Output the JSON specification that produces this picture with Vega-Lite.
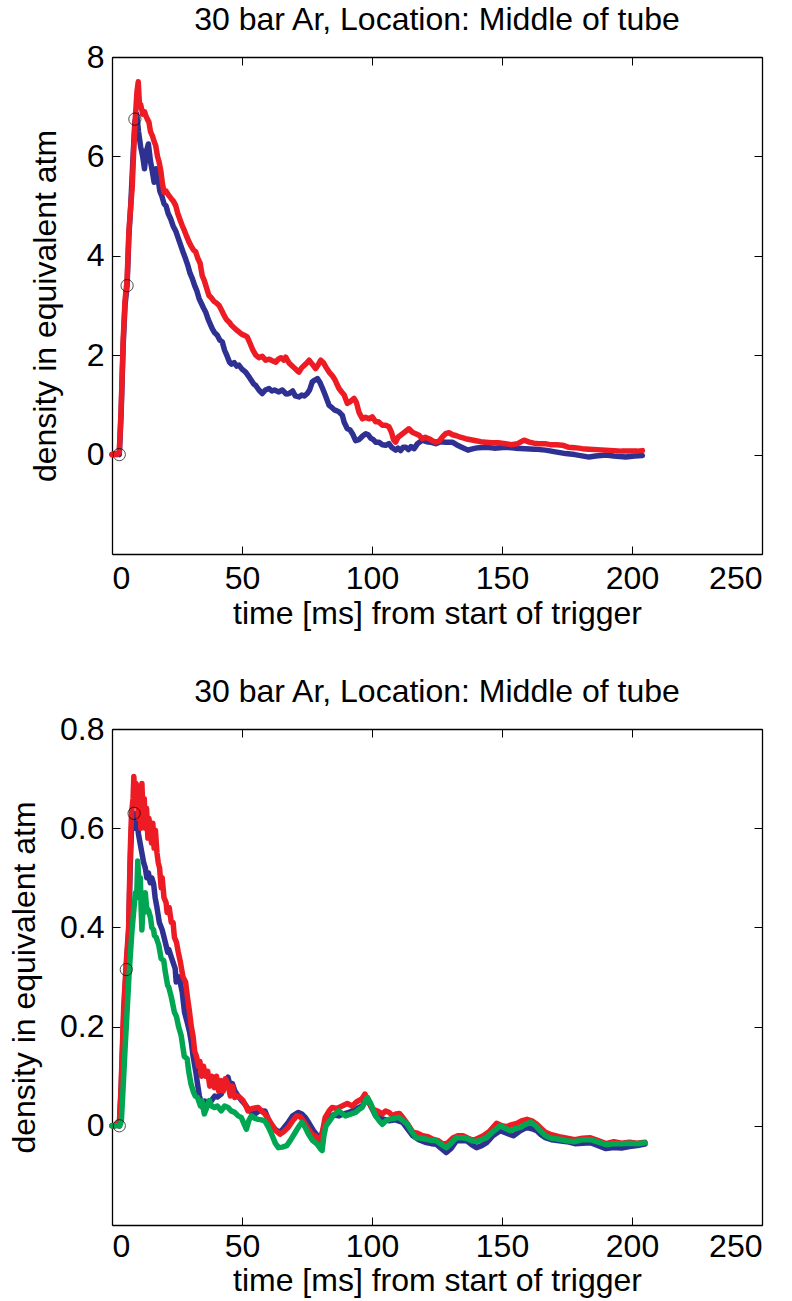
{
"$schema": "https://vega.github.io/schema/vega-lite/v6.json",
"padding": {"left": 8, "top": 4, "right": 5, "bottom": 2},
"background": "white",
"spacing": 47,
"config": {
  "font": "Liberation Sans",
  "view": {"stroke": null},
  "axis": {"grid": false, "domainColor": "#000", "tickColor": "#000", "labelColor": "#000", "titleColor": "#000", "labelFontSize": 32, "titleFontSize": 32, "titleFontWeight": "normal", "tickSize": -8, "domainWidth": 1.3, "tickWidth": 1},
  "axisX": {"labelPadding": 17},
  "axisY": {"labelPadding": 16},
  "title": {"fontSize": 32, "fontWeight": "normal", "color": "#000", "offset": 4}
},
"datasets": {
"topBlue": [
{"t":0,"v":0},{"t":1,"v":0},{"t":2,"v":0.02},{"t":2.8,"v":0},{"t":3.5,"v":0.8},{"t":4.3,"v":2.2},{"t":5,"v":3.0},{"t":5.8,"v":3.4},{"t":6.5,"v":4.4},{"t":7.2,"v":5.0},{"t":8,"v":5.9},{"t":8.8,"v":6.7},{"t":9.5,"v":6.85},{"t":10.2,"v":6.5},{"t":11,"v":6.2},{"t":11.8,"v":6.0},{"t":12.5,"v":5.75},{"t":13.2,"v":6.1},{"t":14,"v":6.25},{"t":14.8,"v":5.9},{"t":15.5,"v":5.7},{"t":16.2,"v":5.48},{"t":17,"v":5.75},{"t":17.6,"v":5.6},{"t":18.4,"v":5.3},{"t":19.2,"v":5.2},{"t":20,"v":5.05},{"t":20.8,"v":5.0},{"t":21.6,"v":4.85},{"t":22.6,"v":4.74},{"t":23.5,"v":4.6},{"t":24.5,"v":4.5},{"t":25.5,"v":4.35},{"t":26.5,"v":4.2},{"t":27.5,"v":4.05},{"t":28.3,"v":3.94},{"t":29.2,"v":3.8},{"t":30,"v":3.65},{"t":30.9,"v":3.54},{"t":31.8,"v":3.4},{"t":32.6,"v":3.3},{"t":33.5,"v":3.14},{"t":34.3,"v":3.05},{"t":35.2,"v":2.95},{"t":36,"v":2.87},{"t":37,"v":2.72},{"t":38,"v":2.6},{"t":38.6,"v":2.53},{"t":39.5,"v":2.45},{"t":40.5,"v":2.4},{"t":41.5,"v":2.3},{"t":42.4,"v":2.27},{"t":43.3,"v":2.1},{"t":44.3,"v":1.98},{"t":45.2,"v":1.86},{"t":46,"v":1.82},{"t":47,"v":1.85},{"t":48,"v":1.78},{"t":48.8,"v":1.8},{"t":50,"v":1.72},{"t":51.4,"v":1.66},{"t":52.5,"v":1.58},{"t":53.5,"v":1.5},{"t":54.5,"v":1.42},{"t":55.3,"v":1.39},{"t":56.5,"v":1.3},{"t":57.8,"v":1.23},{"t":59,"v":1.3},{"t":60.4,"v":1.33},{"t":61.5,"v":1.28},{"t":62.5,"v":1.3},{"t":64.2,"v":1.26},{"t":65.5,"v":1.3},{"t":67,"v":1.22},{"t":68.1,"v":1.23},{"t":69.5,"v":1.28},{"t":70.5,"v":1.18},{"t":71.9,"v":1.16},{"t":73,"v":1.2},{"t":74,"v":1.18},{"t":75.1,"v":1.23},{"t":76,"v":1.3},{"t":77,"v":1.46},{"t":78,"v":1.5},{"t":79,"v":1.53},{"t":80,"v":1.45},{"t":81,"v":1.33},{"t":82,"v":1.2},{"t":83.5,"v":0.99},{"t":84.5,"v":0.95},{"t":85.5,"v":0.9},{"t":86.5,"v":0.88},{"t":87.3,"v":0.86},{"t":88.6,"v":0.79},{"t":89.3,"v":0.65},{"t":90.5,"v":0.52},{"t":91.5,"v":0.5},{"t":92.5,"v":0.42},{"t":93.7,"v":0.28},{"t":95,"v":0.3},{"t":96.5,"v":0.38},{"t":97.6,"v":0.42},{"t":98.5,"v":0.4},{"t":99.5,"v":0.33},{"t":100.5,"v":0.3},{"t":101.4,"v":0.25},{"t":102.7,"v":0.25},{"t":104,"v":0.2},{"t":105.3,"v":0.19},{"t":106.5,"v":0.22},{"t":107.5,"v":0.15},{"t":109.1,"v":0.09},{"t":110,"v":0.13},{"t":111,"v":0.08},{"t":112,"v":0.15},{"t":113,"v":0.15},{"t":114,"v":0.1},{"t":115,"v":0.16},{"t":116.2,"v":0.12},{"t":117.5,"v":0.22},{"t":119.3,"v":0.29},{"t":121,"v":0.26},{"t":122.5,"v":0.25},{"t":124.5,"v":0.22},{"t":126.5,"v":0.26},{"t":128.3,"v":0.25},{"t":130.9,"v":0.25},{"t":132.5,"v":0.2},{"t":134.5,"v":0.15},{"t":136.9,"v":0.09},{"t":139,"v":0.12},{"t":141,"v":0.14},{"t":143.7,"v":0.15},{"t":147,"v":0.13},{"t":151.4,"v":0.15},{"t":155,"v":0.13},{"t":159,"v":0.12},{"t":162.5,"v":0.11},{"t":166.8,"v":0.09},{"t":170,"v":0.06},{"t":174.5,"v":0.02},{"t":178,"v":0.0},{"t":183.5,"v":-0.05},{"t":186,"v":-0.03},{"t":189.9,"v":-0.01},{"t":193,"v":-0.03},{"t":197.6,"v":-0.05},{"t":201,"v":-0.03},{"t":204,"v":-0.02}
],
"topRed": [
{"t":0,"v":0},{"t":1,"v":0.02},{"t":2,"v":0},{"t":2.8,"v":0.05},{"t":3.5,"v":0.9},{"t":4.3,"v":2.3},{"t":5,"v":3.1},{"t":5.8,"v":3.5},{"t":6.5,"v":4.5},{"t":7.2,"v":5.0},{"t":7.8,"v":5.4},{"t":8.4,"v":6.2},{"t":9,"v":6.8},{"t":9.6,"v":7.3},{"t":10.1,"v":7.5},{"t":10.6,"v":7.0},{"t":11,"v":7.05},{"t":11.8,"v":6.85},{"t":12.5,"v":6.9},{"t":13,"v":6.82},{"t":13.6,"v":6.75},{"t":14.2,"v":6.69},{"t":14.8,"v":6.5},{"t":15.5,"v":6.42},{"t":16.2,"v":6.3},{"t":16.8,"v":6.22},{"t":17.5,"v":6.0},{"t":18.1,"v":5.89},{"t":18.8,"v":5.7},{"t":19.4,"v":5.45},{"t":20,"v":5.28},{"t":20.8,"v":5.3},{"t":21.9,"v":5.21},{"t":22.8,"v":5.15},{"t":23.6,"v":5.1},{"t":24.5,"v":5.01},{"t":25.3,"v":4.85},{"t":26.2,"v":4.72},{"t":27,"v":4.61},{"t":27.9,"v":4.5},{"t":28.8,"v":4.38},{"t":29.6,"v":4.28},{"t":30.4,"v":4.2},{"t":31.3,"v":4.12},{"t":32.2,"v":4.08},{"t":33,"v":3.95},{"t":33.9,"v":3.85},{"t":34.7,"v":3.6},{"t":35.5,"v":3.5},{"t":36.4,"v":3.35},{"t":37.3,"v":3.2},{"t":38.3,"v":3.15},{"t":39.3,"v":3.08},{"t":40.2,"v":3.05},{"t":41.2,"v":3.0},{"t":42.2,"v":2.9},{"t":43.1,"v":2.8},{"t":44,"v":2.72},{"t":45,"v":2.67},{"t":46,"v":2.6},{"t":47,"v":2.55},{"t":48,"v":2.5},{"t":48.8,"v":2.47},{"t":50,"v":2.42},{"t":51,"v":2.4},{"t":52,"v":2.37},{"t":53,"v":2.25},{"t":54.2,"v":2.1},{"t":55.3,"v":2.0},{"t":56.5,"v":1.95},{"t":57.8,"v":1.98},{"t":59.1,"v":1.9},{"t":60.5,"v":1.92},{"t":62,"v":1.88},{"t":63,"v":1.86},{"t":64,"v":1.92},{"t":65,"v":1.95},{"t":66.1,"v":1.9},{"t":66.8,"v":1.96},{"t":68,"v":1.85},{"t":69,"v":1.8},{"t":70,"v":1.75},{"t":71,"v":1.7},{"t":71.9,"v":1.66},{"t":73,"v":1.75},{"t":74,"v":1.8},{"t":75,"v":1.85},{"t":75.8,"v":1.9},{"t":77,"v":1.82},{"t":78.3,"v":1.73},{"t":79.2,"v":1.8},{"t":80.3,"v":1.9},{"t":81.3,"v":1.85},{"t":82.4,"v":1.75},{"t":83.5,"v":1.66},{"t":84.7,"v":1.59},{"t":85.8,"v":1.5},{"t":87.3,"v":1.33},{"t":88.5,"v":1.25},{"t":89.3,"v":1.2},{"t":90.5,"v":1.03},{"t":91.5,"v":1.06},{"t":93.1,"v":1.13},{"t":94,"v":1.05},{"t":95,"v":0.85},{"t":96.3,"v":0.72},{"t":97.5,"v":0.75},{"t":99,"v":0.72},{"t":100.1,"v":0.76},{"t":101.4,"v":0.66},{"t":102.5,"v":0.66},{"t":104,"v":0.59},{"t":105.3,"v":0.59},{"t":106.5,"v":0.56},{"t":107.5,"v":0.45},{"t":108.3,"v":0.3},{"t":109.1,"v":0.25},{"t":110,"v":0.35},{"t":111,"v":0.39},{"t":112.5,"v":0.45},{"t":114.2,"v":0.52},{"t":115.5,"v":0.45},{"t":116.8,"v":0.42},{"t":118.1,"v":0.39},{"t":119.3,"v":0.32},{"t":120.5,"v":0.35},{"t":121.9,"v":0.32},{"t":123.2,"v":0.28},{"t":124.5,"v":0.25},{"t":125.8,"v":0.27},{"t":127,"v":0.35},{"t":128.3,"v":0.42},{"t":129.6,"v":0.44},{"t":131,"v":0.4},{"t":132.5,"v":0.38},{"t":134,"v":0.35},{"t":136,"v":0.32},{"t":138,"v":0.3},{"t":140,"v":0.28},{"t":141.8,"v":0.26},{"t":143.7,"v":0.25},{"t":146,"v":0.24},{"t":148.5,"v":0.24},{"t":151.4,"v":0.22},{"t":153.5,"v":0.2},{"t":156,"v":0.22},{"t":158.5,"v":0.29},{"t":160.5,"v":0.25},{"t":162.3,"v":0.23},{"t":164.2,"v":0.22},{"t":166.5,"v":0.22},{"t":168.5,"v":0.2},{"t":171,"v":0.2},{"t":173.2,"v":0.19},{"t":175.5,"v":0.15},{"t":178,"v":0.14},{"t":180.9,"v":0.12},{"t":183.5,"v":0.11},{"t":186.5,"v":0.1},{"t":189.9,"v":0.09},{"t":193,"v":0.08},{"t":196,"v":0.07},{"t":199,"v":0.07},{"t":202,"v":0.07},{"t":204,"v":0.08}
],
"topCirc": [{"t":2.8,"v":0},{"t":5.8,"v":3.4},{"t":8.8,"v":6.75}],
"botBlue": [
{"t":0,"v":0},{"t":1,"v":0},{"t":2,"v":0.003},{"t":2.8,"v":0},{"t":3.5,"v":0.07},{"t":4.5,"v":0.22},{"t":5.5,"v":0.32},{"t":6.4,"v":0.39},{"t":7,"v":0.52},{"t":7.5,"v":0.6},{"t":8.4,"v":0.63},{"t":9,"v":0.6},{"t":9.5,"v":0.62},{"t":10.2,"v":0.588},{"t":10.8,"v":0.57},{"t":11.5,"v":0.55},{"t":12.2,"v":0.53},{"t":12.8,"v":0.52},{"t":13.4,"v":0.5},{"t":14,"v":0.51},{"t":14.7,"v":0.49},{"t":15.3,"v":0.5},{"t":16,"v":0.488},{"t":16.6,"v":0.46},{"t":17.3,"v":0.44},{"t":18.2,"v":0.41},{"t":19.3,"v":0.395},{"t":20.5,"v":0.37},{"t":21.4,"v":0.35},{"t":21.8,"v":0.356},{"t":22.8,"v":0.34},{"t":24.3,"v":0.317},{"t":24.7,"v":0.29},{"t":25.8,"v":0.3},{"t":27,"v":0.27},{"t":27.9,"v":0.229},{"t":28.9,"v":0.209},{"t":29.8,"v":0.19},{"t":30.5,"v":0.169},{"t":31.2,"v":0.14},{"t":32.2,"v":0.11},{"t":32.9,"v":0.084},{"t":33.6,"v":0.06},{"t":34.9,"v":0.037},{"t":35.7,"v":0.05},{"t":36.5,"v":0.045},{"t":38.1,"v":0.05},{"t":39.5,"v":0.06},{"t":40.5,"v":0.058},{"t":42,"v":0.064},{"t":43,"v":0.08},{"t":43.8,"v":0.09},{"t":44.6,"v":0.098},{"t":45.5,"v":0.08},{"t":46.3,"v":0.085},{"t":47.2,"v":0.071},{"t":48.5,"v":0.06},{"t":50,"v":0.05},{"t":51,"v":0.044},{"t":53,"v":0.03},{"t":54.9,"v":0.024},{"t":56.5,"v":0.03},{"t":58.8,"v":0.03},{"t":60,"v":0.015},{"t":61.4,"v":0},{"t":63,"v":-0.008},{"t":64.6,"v":-0.013},{"t":66,"v":-0.005},{"t":67.8,"v":0.007},{"t":69.5,"v":0.02},{"t":71.7,"v":0.027},{"t":73,"v":0.024},{"t":74.3,"v":0.017},{"t":75.8,"v":0.005},{"t":77.5,"v":-0.01},{"t":79,"v":-0.02},{"t":80.1,"v":-0.03},{"t":81,"v":-0.012},{"t":82,"v":0.005},{"t":83.3,"v":0.017},{"t":85,"v":0.022},{"t":87.2,"v":0.02},{"t":89,"v":0.024},{"t":91.1,"v":0.027},{"t":93.5,"v":0.033},{"t":96.2,"v":0.04},{"t":98.2,"v":0.057},{"t":99.5,"v":0.04},{"t":101.4,"v":0.02},{"t":103.5,"v":0.015},{"t":106.6,"v":0.01},{"t":109,"v":0.012},{"t":111.8,"v":0.007},{"t":113.5,"v":-0.005},{"t":115.7,"v":-0.02},{"t":118,"v":-0.028},{"t":120.9,"v":-0.034},{"t":122.8,"v":-0.036},{"t":124.7,"v":-0.037},{"t":126.5,"v":-0.045},{"t":128.6,"v":-0.054},{"t":130.5,"v":-0.045},{"t":132.5,"v":-0.03},{"t":134.5,"v":-0.03},{"t":136.4,"v":-0.03},{"t":138.3,"v":-0.038},{"t":140.2,"v":-0.044},{"t":142.2,"v":-0.04},{"t":144.1,"v":-0.034},{"t":146.5,"v":-0.02},{"t":149.3,"v":-0.01},{"t":151.8,"v":-0.015},{"t":154.4,"v":-0.02},{"t":157,"v":-0.01},{"t":159.6,"v":-0.003},{"t":161.5,"v":-0.006},{"t":163.4,"v":-0.01},{"t":165,"v":-0.018},{"t":166.7,"v":-0.024},{"t":169,"v":-0.028},{"t":172,"v":-0.03},{"t":175,"v":-0.032},{"t":178,"v":-0.036},{"t":181,"v":-0.035},{"t":184,"v":-0.034},{"t":187,"v":-0.04},{"t":190,"v":-0.046},{"t":193,"v":-0.044},{"t":196,"v":-0.045},{"t":199,"v":-0.042},{"t":202,"v":-0.04},{"t":205,"v":-0.037}
],
"botRed": [
{"t":0,"v":0},{"t":1,"v":0},{"t":2,"v":0.005},{"t":2.8,"v":0},{"t":3.5,"v":0.08},{"t":4.5,"v":0.24},{"t":5.5,"v":0.33},{"t":6.4,"v":0.4},{"t":7,"v":0.55},{"t":7.5,"v":0.63},{"t":8.1,"v":0.66},{"t":8.4,"v":0.704},{"t":8.9,"v":0.65},{"t":9.3,"v":0.69},{"t":9.6,"v":0.68},{"t":10.2,"v":0.62},{"t":10.6,"v":0.67},{"t":11.1,"v":0.6},{"t":11.5,"v":0.69},{"t":12,"v":0.62},{"t":12.4,"v":0.66},{"t":12.8,"v":0.6},{"t":13.3,"v":0.64},{"t":13.8,"v":0.58},{"t":14.2,"v":0.62},{"t":14.7,"v":0.6},{"t":15.2,"v":0.57},{"t":15.7,"v":0.61},{"t":16.2,"v":0.56},{"t":16.7,"v":0.596},{"t":17.3,"v":0.55},{"t":17.8,"v":0.53},{"t":18.3,"v":0.52},{"t":18.9,"v":0.48},{"t":19.3,"v":0.5},{"t":20,"v":0.46},{"t":20.8,"v":0.45},{"t":21.2,"v":0.43},{"t":22,"v":0.44},{"t":22.8,"v":0.41},{"t":23.5,"v":0.41},{"t":24,"v":0.38},{"t":24.8,"v":0.37},{"t":25.5,"v":0.35},{"t":26.3,"v":0.33},{"t":27.3,"v":0.3},{"t":28.3,"v":0.29},{"t":29,"v":0.26},{"t":29.8,"v":0.23},{"t":30.5,"v":0.2},{"t":31.2,"v":0.18},{"t":31.8,"v":0.15},{"t":32.5,"v":0.14},{"t":33.2,"v":0.12},{"t":33.8,"v":0.13},{"t":34.4,"v":0.1},{"t":35.2,"v":0.12},{"t":36,"v":0.1},{"t":36.8,"v":0.11},{"t":37.6,"v":0.08},{"t":38.4,"v":0.1},{"t":39.4,"v":0.077},{"t":40.2,"v":0.1},{"t":41,"v":0.07},{"t":42,"v":0.091},{"t":42.8,"v":0.07},{"t":43.6,"v":0.095},{"t":44.6,"v":0.084},{"t":45.5,"v":0.06},{"t":46.3,"v":0.08},{"t":47.2,"v":0.057},{"t":48.5,"v":0.06},{"t":50.4,"v":0.051},{"t":51.5,"v":0.04},{"t":52.3,"v":0.03},{"t":54,"v":0.035},{"t":56.2,"v":0.037},{"t":57.5,"v":0.03},{"t":58.8,"v":0.024},{"t":60,"v":0.015},{"t":61.4,"v":0.003},{"t":63,"v":-0.01},{"t":64.6,"v":-0.017},{"t":66,"v":-0.012},{"t":67.8,"v":-0.003},{"t":69.5,"v":0.01},{"t":71.1,"v":0.02},{"t":72.5,"v":0.018},{"t":73.6,"v":0.01},{"t":75,"v":-0.002},{"t":76.9,"v":-0.017},{"t":78.5,"v":-0.022},{"t":80.1,"v":-0.03},{"t":81,"v":-0.01},{"t":82,"v":0.017},{"t":83.5,"v":0.03},{"t":84.7,"v":0.037},{"t":86.5,"v":0.035},{"t":88.5,"v":0.04},{"t":90.5,"v":0.045},{"t":92.4,"v":0.04},{"t":94,"v":0.048},{"t":95,"v":0.051},{"t":96.2,"v":0.055},{"t":97.3,"v":0.064},{"t":98.5,"v":0.05},{"t":100.2,"v":0.034},{"t":102,"v":0.03},{"t":104,"v":0.024},{"t":105.3,"v":0.03},{"t":106.6,"v":0.027},{"t":108,"v":0.02},{"t":109.2,"v":0.024},{"t":110.5,"v":0.025},{"t":111.8,"v":0.017},{"t":113.5,"v":0.005},{"t":115.7,"v":-0.013},{"t":117.5,"v":-0.015},{"t":119.5,"v":-0.02},{"t":121.5,"v":-0.022},{"t":123.4,"v":-0.027},{"t":125.5,"v":-0.03},{"t":127.3,"v":-0.037},{"t":129,"v":-0.035},{"t":131.2,"v":-0.024},{"t":133,"v":-0.02},{"t":135,"v":-0.02},{"t":137,"v":-0.025},{"t":138.9,"v":-0.029},{"t":140.8,"v":-0.025},{"t":142.8,"v":-0.02},{"t":145,"v":-0.012},{"t":147.9,"v":0.005},{"t":150,"v":0},{"t":151.8,"v":-0.002},{"t":153.5,"v":0.002},{"t":155.7,"v":0.005},{"t":157.5,"v":0.01},{"t":159.6,"v":0.013},{"t":161.5,"v":0.01},{"t":163.4,"v":0.003},{"t":165,"v":-0.005},{"t":166.7,"v":-0.013},{"t":169,"v":-0.018},{"t":172,"v":-0.022},{"t":175,"v":-0.025},{"t":178,"v":-0.028},{"t":181,"v":-0.025},{"t":184,"v":-0.024},{"t":187,"v":-0.03},{"t":190,"v":-0.036},{"t":193,"v":-0.032},{"t":196,"v":-0.035},{"t":199,"v":-0.033},{"t":202,"v":-0.035},{"t":205,"v":-0.033}
],
"botGreen": [
{"t":0,"v":0},{"t":1,"v":0},{"t":2,"v":0},{"t":3,"v":0},{"t":3.6,"v":0.01},{"t":4.3,"v":0.08},{"t":5.1,"v":0.163},{"t":5.8,"v":0.23},{"t":6.4,"v":0.29},{"t":7,"v":0.34},{"t":7.7,"v":0.395},{"t":8.3,"v":0.43},{"t":9,"v":0.47},{"t":9.5,"v":0.46},{"t":9.9,"v":0.534},{"t":10.4,"v":0.48},{"t":10.9,"v":0.5},{"t":11.2,"v":0.44},{"t":11.5,"v":0.395},{"t":12,"v":0.45},{"t":12.4,"v":0.43},{"t":12.8,"v":0.47},{"t":13.3,"v":0.44},{"t":14.1,"v":0.433},{"t":14.8,"v":0.42},{"t":15.3,"v":0.4},{"t":16,"v":0.395},{"t":16.3,"v":0.384},{"t":17,"v":0.38},{"t":18,"v":0.364},{"t":18.9,"v":0.337},{"t":19.9,"v":0.333},{"t":20.5,"v":0.31},{"t":21.4,"v":0.283},{"t":21.8,"v":0.28},{"t":22.8,"v":0.26},{"t":24,"v":0.229},{"t":24.8,"v":0.22},{"t":25.6,"v":0.2},{"t":26.6,"v":0.182},{"t":27.8,"v":0.14},{"t":28.9,"v":0.135},{"t":29.5,"v":0.11},{"t":30.4,"v":0.084},{"t":31.2,"v":0.07},{"t":32,"v":0.06},{"t":32.9,"v":0.057},{"t":34,"v":0.04},{"t":34.6,"v":0.05},{"t":35.5,"v":0.024},{"t":36.3,"v":0.035},{"t":37.4,"v":0.051},{"t":38.3,"v":0.04},{"t":39.4,"v":0.037},{"t":40.5,"v":0.04},{"t":42,"v":0.03},{"t":43.3,"v":0.04},{"t":44.6,"v":0.037},{"t":45.8,"v":0.03},{"t":47.2,"v":0.027},{"t":48.5,"v":0.02},{"t":49.7,"v":0.017},{"t":50.7,"v":0.005},{"t":51.7,"v":-0.007},{"t":52.6,"v":0.01},{"t":53.6,"v":0.02},{"t":55,"v":0.015},{"t":56.2,"v":0.013},{"t":57.5,"v":0.012},{"t":58.8,"v":0.01},{"t":60.2,"v":-0.003},{"t":61.4,"v":-0.017},{"t":62.8,"v":-0.035},{"t":64,"v":-0.044},{"t":65.5,"v":-0.043},{"t":67.2,"v":-0.04},{"t":68.8,"v":-0.028},{"t":70.5,"v":-0.013},{"t":72,"v":0},{"t":73,"v":0.007},{"t":74.3,"v":-0.003},{"t":75.6,"v":-0.017},{"t":77.2,"v":-0.03},{"t":78.9,"v":-0.037},{"t":80,"v":-0.045},{"t":80.8,"v":-0.05},{"t":81.5,"v":-0.02},{"t":82.3,"v":0},{"t":83.3,"v":0.007},{"t":85,"v":0.02},{"t":87.2,"v":0.03},{"t":88.5,"v":0.025},{"t":89.8,"v":0.02},{"t":91.5,"v":0.023},{"t":93.7,"v":0.027},{"t":95,"v":0.033},{"t":96.2,"v":0.037},{"t":98.2,"v":0.057},{"t":99.5,"v":0.045},{"t":101.4,"v":0.02},{"t":102.8,"v":0.01},{"t":104,"v":0.003},{"t":105.3,"v":0.01},{"t":106.6,"v":0.013},{"t":108.5,"v":0.015},{"t":110.4,"v":0.017},{"t":112,"v":0.01},{"t":113.6,"v":0.003},{"t":115.3,"v":-0.012},{"t":116.9,"v":-0.024},{"t":119,"v":-0.025},{"t":120.9,"v":-0.027},{"t":122.8,"v":-0.029},{"t":124.7,"v":-0.03},{"t":126.5,"v":-0.037},{"t":128.6,"v":-0.044},{"t":130.5,"v":-0.035},{"t":132.5,"v":-0.024},{"t":134.5,"v":-0.024},{"t":136.4,"v":-0.025},{"t":138.3,"v":-0.03},{"t":140.2,"v":-0.032},{"t":142.2,"v":-0.028},{"t":144.1,"v":-0.024},{"t":146.5,"v":-0.012},{"t":149.3,"v":0},{"t":151.2,"v":-0.005},{"t":153.2,"v":-0.01},{"t":155,"v":-0.006},{"t":157.1,"v":-0.003},{"t":159,"v":0.003},{"t":161,"v":0.007},{"t":163,"v":0},{"t":164.8,"v":-0.01},{"t":166.7,"v":-0.02},{"t":169,"v":-0.025},{"t":172,"v":-0.027},{"t":175,"v":-0.03},{"t":178,"v":-0.032},{"t":181,"v":-0.028},{"t":184,"v":-0.028},{"t":187,"v":-0.033},{"t":190,"v":-0.038},{"t":193,"v":-0.036},{"t":196,"v":-0.036},{"t":199,"v":-0.035},{"t":202,"v":-0.036},{"t":205,"v":-0.034}
],
"botCirc": [{"t":2.8,"v":0},{"t":5.5,"v":0.315},{"t":8.5,"v":0.63}]
},
"vconcat": [
{
  "width": 650, "height": 497,
  "title": {"text": "30 bar Ar, Location: Middle of tube"},
  "resolve": {"axis": {"x": "independent", "y": "independent"}},
  "layer": [
    {"data": {"name": "topBlue"}, "mark": {"type": "line", "color": "#2E3192", "strokeWidth": 5.5, "strokeJoin": "round", "strokeCap": "round"},
     "encoding": {
       "x": {"field": "t", "type": "quantitative", "scale": {"domain": [0, 250], "nice": false}, "axis": {"values": [0, 50, 100, 150, 200, 250], "format": "d", "title": "time [ms] from start of trigger", "titlePadding": 4}},
       "y": {"field": "v", "type": "quantitative", "scale": {"domain": [-2, 8], "nice": false, "zero": false}, "axis": {"values": [0, 2, 4, 6, 8], "format": "d", "title": "density in equivalent atm", "titlePadding": 24}}}},
    {"data": {"name": "topRed"}, "mark": {"type": "line", "color": "#ED1C24", "strokeWidth": 5.5, "strokeJoin": "round", "strokeCap": "round"},
     "encoding": {"x": {"field": "t", "type": "quantitative", "axis": null}, "y": {"field": "v", "type": "quantitative", "axis": null}}},
    {"data": {"name": "topCirc"}, "mark": {"type": "point", "shape": "circle", "filled": false, "color": "#000", "size": 150, "strokeWidth": 1},
     "encoding": {"x": {"field": "t", "type": "quantitative", "axis": {"orient": "top", "values": [0, 50, 100, 150, 200, 250], "labels": false, "title": null}},
                  "y": {"field": "v", "type": "quantitative", "axis": {"orient": "right", "values": [-2, 0, 2, 4, 6, 8], "labels": false, "title": null}}}}
  ]
},
{
  "width": 650, "height": 496,
  "title": {"text": "30 bar Ar, Location: Middle of tube"},
  "resolve": {"axis": {"x": "independent", "y": "independent"}},
  "layer": [
    {"data": {"name": "botBlue"}, "mark": {"type": "line", "color": "#2E3192", "strokeWidth": 5.5, "strokeJoin": "round", "strokeCap": "round"},
     "encoding": {
       "x": {"field": "t", "type": "quantitative", "scale": {"domain": [0, 250], "nice": false}, "axis": {"values": [0, 50, 100, 150, 200, 250], "format": "d", "title": "time [ms] from start of trigger", "titlePadding": 3, "labelPadding": 14}},
       "y": {"field": "v", "type": "quantitative", "scale": {"domain": [-0.2, 0.8], "nice": false, "zero": false}, "axis": {"values": [0, 0.2, 0.4, 0.6, 0.8], "format": "~g", "title": "density in equivalent atm", "titlePadding": 18}}}},
    {"data": {"name": "botRed"}, "mark": {"type": "line", "color": "#ED1C24", "strokeWidth": 5.5, "strokeJoin": "round", "strokeCap": "round"},
     "encoding": {"x": {"field": "t", "type": "quantitative", "axis": null}, "y": {"field": "v", "type": "quantitative", "axis": null}}},
    {"data": {"name": "botGreen"}, "mark": {"type": "line", "color": "#00A651", "strokeWidth": 5.5, "strokeJoin": "round", "strokeCap": "round"},
     "encoding": {"x": {"field": "t", "type": "quantitative", "axis": null}, "y": {"field": "v", "type": "quantitative", "axis": null}}},
    {"data": {"name": "botCirc"}, "mark": {"type": "point", "shape": "circle", "filled": false, "color": "#000", "size": 150, "strokeWidth": 1},
     "encoding": {"x": {"field": "t", "type": "quantitative", "axis": {"orient": "top", "values": [0, 50, 100, 150, 200, 250], "labels": false, "title": null}},
                  "y": {"field": "v", "type": "quantitative", "axis": {"orient": "right", "values": [-0.2, 0, 0.2, 0.4, 0.6, 0.8], "labels": false, "title": null}}}}
  ]
}
]
}
